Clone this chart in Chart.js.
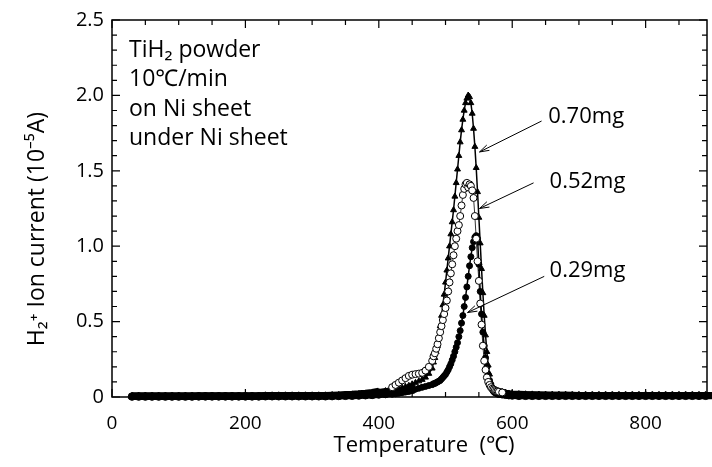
<!DOCTYPE html>
<html>
<head>
<meta charset="utf-8">
<script src="https://cdn.jsdelivr.net/npm/chart.js@4.4.0/dist/chart.umd.min.js"></script>
<style>
  html, body { margin: 0; padding: 0; background: #fff; }
  #wrap { width: 712px; height: 467px; }
</style>
</head>
<body>
<div id="wrap"><canvas id="tds" width="712" height="467"></canvas></div>
<script>
// Temperature grid (deg C), shared by the three runs
const temps = [
  30, 40, 50, 60, 70, 80, 90, 100, 110, 120,
  130, 140, 150, 160, 170, 180, 190, 200, 210, 220,
  230, 240, 250, 260, 270, 280, 290, 300, 310, 320,
  330, 340, 350, 360, 370, 380, 390, 400, 410, 420,
  425, 430, 435, 440, 445, 450, 455, 460, 465, 470, 475, 480,
  482, 484, 486, 488, 490, 492, 494, 496, 498, 500,
  502, 504, 506, 508, 510, 512, 514, 516, 518, 520,
  522, 524, 526, 528, 530, 532, 534, 536, 538, 540,
  542, 544, 546, 548, 550, 552, 554, 556, 558, 560,
  562, 564, 566, 568, 570, 572, 574, 576, 578, 580,
  585, 590, 595, 600,
  610, 620, 630, 640, 650, 660, 670, 680, 690, 700,
  710, 720, 730, 740, 750, 760, 770, 780, 790, 800,
  810, 820, 830, 840, 850, 860, 870, 880, 890, 900
];

// H2+ ion current (x1e-5 A)
const ion070 = [
  0.005, 0.005, 0.005, 0.005, 0.005, 0.005, 0.005, 0.005, 0.005, 0.005,
  0.006, 0.006, 0.006, 0.006, 0.006, 0.006, 0.006, 0.006, 0.006, 0.006,
  0.008, 0.008, 0.008, 0.008, 0.008, 0.008, 0.008, 0.008, 0.008, 0.008,
  0.01, 0.01, 0.012, 0.014, 0.016, 0.02, 0.024, 0.03, 0.036, 0.044,
  0.05, 0.056, 0.062, 0.068, 0.075, 0.085, 0.095, 0.105, 0.115, 0.13, 0.155, 0.19,
  0.23, 0.26, 0.3, 0.34, 0.4, 0.47, 0.54, 0.61, 0.68, 0.76,
  0.84, 0.92, 1.0, 1.08, 1.16, 1.24, 1.33, 1.42, 1.51, 1.6,
  1.69, 1.77, 1.84, 1.9, 1.95, 1.98, 2.0, 1.99, 1.95, 1.88,
  1.78, 1.66, 1.52, 1.36, 1.19, 1.02, 0.85, 0.69, 0.54, 0.41,
  0.3, 0.21, 0.15, 0.1, 0.07, 0.055, 0.045, 0.04, 0.035, 0.033,
  0.03, 0.025, 0.02, 0.018,
  0.016, 0.015, 0.014, 0.013, 0.012, 0.012, 0.011, 0.011, 0.01, 0.01,
  0.01, 0.01, 0.01, 0.01, 0.01, 0.01, 0.01, 0.01, 0.01, 0.01,
  0.01, 0.01, 0.01, 0.01, 0.01, 0.01, 0.01, 0.01, 0.01, 0.01
];
const ion052 = [
  0.008, 0.008, 0.008, 0.008, 0.008, 0.008, 0.008, 0.008, 0.008, 0.008,
  0.008, 0.008, 0.008, 0.008, 0.008, 0.008, 0.008, 0.008, 0.008, 0.008,
  0.01, 0.01, 0.01, 0.01, 0.01, 0.01, 0.01, 0.01, 0.01, 0.01,
  0.012, 0.014, 0.016, 0.018, 0.021, 0.025, 0.03, 0.038, 0.05, 0.065,
  0.08, 0.095, 0.11, 0.125, 0.14, 0.148, 0.152, 0.155, 0.16, 0.175, 0.2, 0.24,
  0.27, 0.29, 0.32, 0.35, 0.39, 0.43, 0.47, 0.51, 0.55, 0.59,
  0.64, 0.7, 0.76, 0.82, 0.88, 0.94, 1.0, 1.05, 1.1, 1.14,
  1.2, 1.27, 1.34, 1.38, 1.41, 1.42, 1.39, 1.41, 1.4, 1.37,
  1.32, 1.2, 1.05, 0.9, 0.77, 0.62, 0.48, 0.34, 0.24, 0.18,
  0.13, 0.1, 0.08, 0.065, 0.055, 0.05, 0.045, 0.04, 0.038, 0.035,
  0.03, 0.025, 0.022, 0.02,
  0.018, 0.016, 0.015, 0.014, 0.013, 0.012, 0.012, 0.011, 0.011, 0.01,
  0.01, 0.01, 0.01, 0.01, 0.01, 0.01, 0.01, 0.01, 0.01, 0.01,
  0.01, 0.01, 0.01, 0.01, 0.01, 0.01, 0.01, 0.01, 0.01, 0.01
];
const ion029 = [
  0.003, 0.003, 0.003, 0.003, 0.003, 0.003, 0.003, 0.003, 0.003, 0.003,
  0.004, 0.004, 0.004, 0.004, 0.004, 0.004, 0.004, 0.004, 0.004, 0.004,
  0.005, 0.005, 0.005, 0.005, 0.005, 0.005, 0.005, 0.005, 0.005, 0.005,
  0.006, 0.007, 0.008, 0.009, 0.01, 0.012, 0.014, 0.017, 0.02, 0.024,
  0.027, 0.03, 0.034, 0.038, 0.042, 0.047, 0.052, 0.058, 0.064, 0.07, 0.076, 0.082,
  0.088, 0.09, 0.095, 0.1, 0.105, 0.11, 0.12, 0.13, 0.14, 0.15,
  0.165, 0.18, 0.2, 0.22, 0.245, 0.27, 0.3, 0.33, 0.36, 0.4,
  0.44, 0.49, 0.54, 0.6, 0.66, 0.73, 0.8, 0.87, 0.93, 0.99,
  1.03, 1.06, 1.07, 1.05, 0.88, 0.7, 0.55, 0.43, 0.34, 0.26,
  0.2, 0.15, 0.11, 0.08, 0.06, 0.045, 0.035, 0.03, 0.025, 0.022,
  0.018, 0.015, 0.012, 0.01,
  0.008, 0.008, 0.008, 0.008, 0.008, 0.008, 0.008, 0.008, 0.008, 0.008,
  0.008, 0.008, 0.008, 0.008, 0.008, 0.008, 0.008, 0.008, 0.008, 0.008,
  0.008, 0.008, 0.008, 0.008, 0.008, 0.008, 0.008, 0.008, 0.008, 0.008
];

const seriesNames = ["0.70mg", "0.52mg", "0.29mg"];
const xTickValues = [0, 200, 400, 600, 800];
const yTickValues = [0, 0.5, 1.0, 1.5, 2.0, 2.5];
const noteLines = ["TiH\u2082 powder", "10\u2103/min", "on Ni sheet", "under Ni sheet"];
const xTitle = "Temperature  (\u2103)";
const yTitle = "H\u2082\u207A Ion current (10\u207B\u2075A)";

const FONT = "'Open Sans', 'Noto Sans', sans-serif";

function pts(vals) {
  return temps.map((t, i) => ({ x: t, y: vals[i] }));
}

// where the curves lie on the baseline the dense points merge into one thick band
const onBase = c => c.raw && c.raw.y < 0.05;
const baseWidth = thin => ctx => (ctx.p0.parsed.y < 0.05 && ctx.p1.parsed.y < 0.05) ? 7 : thin;

// box frame with inward ticks on all four sides
const frameTicks = {
  id: "frameTicks",
  afterDatasetsDraw(chart) {
    const { ctx, chartArea: a, scales: { x, y } } = chart;
    ctx.save();
    ctx.strokeStyle = "#000";
    ctx.lineWidth = 1.5;
    ctx.strokeRect(a.left, a.top, a.right - a.left, a.bottom - a.top);
    ctx.lineWidth = 1.2;
    ctx.beginPath();
    for (let v = 0; v <= x.max; v += 50) {
      const px = x.getPixelForValue(v);
      const len = v % 200 === 0 ? 8 : 5;
      ctx.moveTo(px, a.bottom); ctx.lineTo(px, a.bottom - len);
      ctx.moveTo(px, a.top); ctx.lineTo(px, a.top + len);
    }
    for (let i = 0; i <= 25; i++) {
      const py = y.getPixelForValue(i / 10);
      const len = i % 5 === 0 ? 8 : 5;
      ctx.moveTo(a.left, py); ctx.lineTo(a.left + len, py);
      ctx.moveTo(a.right, py); ctx.lineTo(a.right - len, py);
    }
    ctx.stroke();
    ctx.restore();
  }
};

// axis titles, text block and mass labels with arrows
const notes = {
  id: "notes",
  afterDraw(chart) {
    const { ctx, scales: { x, y } } = chart;
    ctx.save();
    ctx.fillStyle = "#000";
    ctx.strokeStyle = "#000";
    ctx.textBaseline = "middle";

    ctx.textAlign = "center";
    ctx.font = "22px " + FONT;
    ctx.fillText(xTitle, 424, 446);
    ctx.save();
    ctx.translate(37, 229);
    ctx.rotate(-Math.PI / 2);
    ctx.font = "23px " + FONT;
    ctx.fillText(yTitle, 0, 0);
    ctx.restore();

    ctx.textAlign = "left";
    ctx.font = "23px " + FONT;
    noteLines.forEach((s, i) => ctx.fillText(s, 129, 50 + i * 29.5));

    ctx.font = "22px " + FONT;
    const labelAt = [[654, 1.86], [656, 1.43], [656, 0.84]];
    const arrowFrom = [[644, 1.83], [632, 1.42], [648, 0.80]];
    const arrowTo = [[551, 1.625], [551, 1.25], [533, 0.56]];
    ctx.lineWidth = 1;
    seriesNames.forEach((name, i) => {
      ctx.fillText(name, x.getPixelForValue(labelAt[i][0]), y.getPixelForValue(labelAt[i][1]));
      const x0 = x.getPixelForValue(arrowFrom[i][0]), y0 = y.getPixelForValue(arrowFrom[i][1]);
      const x1 = x.getPixelForValue(arrowTo[i][0]), y1 = y.getPixelForValue(arrowTo[i][1]);
      const ang = Math.atan2(y0 - y1, x0 - x1);
      ctx.beginPath();
      ctx.moveTo(x0, y0); ctx.lineTo(x1, y1);
      ctx.moveTo(x1 + 10 * Math.cos(ang + 0.3), y1 + 10 * Math.sin(ang + 0.3));
      ctx.lineTo(x1, y1);
      ctx.lineTo(x1 + 10 * Math.cos(ang - 0.3), y1 + 10 * Math.sin(ang - 0.3));
      ctx.stroke();
    });
    ctx.restore();
  }
};

new Chart(document.getElementById("tds"), {
  type: "scatter",
  data: {
    datasets: [
      {
        label: seriesNames[1],
        data: pts(ion052),
        showLine: true,
        borderColor: "#000",
        borderWidth: 0.8,
        segment: { borderWidth: baseWidth(0.8) },
        pointStyle: "circle",
        pointRadius: c => (c.raw && c.raw.x >= 420 && c.raw.x <= 585) ? 3.5 : 0,
        pointBackgroundColor: "#fff",
        pointBorderColor: "#000",
        pointBorderWidth: 1,
        order: 0,
        clip: false
      },
      {
        label: seriesNames[0],
        data: pts(ion070),
        showLine: true,
        borderColor: "#000",
        borderWidth: 1.5,
        segment: { borderWidth: baseWidth(1.5) },
        pointStyle: "triangle",
        pointRadius: c => onBase(c) ? 4 : 3.4,
        pointBackgroundColor: "#000",
        pointBorderColor: "#000",
        pointBorderWidth: 1,
        order: 1,
        clip: false
      },
      {
        label: seriesNames[2],
        data: pts(ion029),
        showLine: true,
        borderColor: "#000",
        borderWidth: 1.5,
        segment: { borderWidth: baseWidth(1.5) },
        pointStyle: "circle",
        pointRadius: c => onBase(c) ? 3.8 : 3,
        pointBackgroundColor: "#000",
        pointBorderColor: "#000",
        pointBorderWidth: 1,
        order: 2,
        clip: false
      }
    ]
  },
  options: {
    responsive: false,
    animation: false,
    devicePixelRatio: 1,
    layout: { padding: { top: 20, right: 4, left: 0, bottom: 0 } },
    plugins: { legend: { display: false }, tooltip: { enabled: false } },
    scales: {
      x: {
        type: "linear",
        min: 0,
        max: 892,
        afterBuildTicks: s => { s.ticks = xTickValues.map(v => ({ value: v })); },
        afterFit: s => { s.height = 70; },
        grid: { display: false, drawTicks: false },
        border: { display: false },
        ticks: { padding: 15, color: "#000", autoSkip: false, maxRotation: 0, font: { family: FONT, size: 19 } }
      },
      y: {
        min: 0,
        max: 2.5,
        afterBuildTicks: s => { s.ticks = yTickValues.map(v => ({ value: v })); },
        afterFit: s => { s.width = 112; },
        grid: { display: false, drawTicks: false },
        border: { display: false },
        ticks: {
          padding: 8,
          color: "#000",
          font: { family: FONT, size: 20 },
          callback: v => v === 0 ? "0" : v.toFixed(1)
        }
      }
    }
  },
  plugins: [frameTicks, notes]
});
</script>
</body>
</html>
